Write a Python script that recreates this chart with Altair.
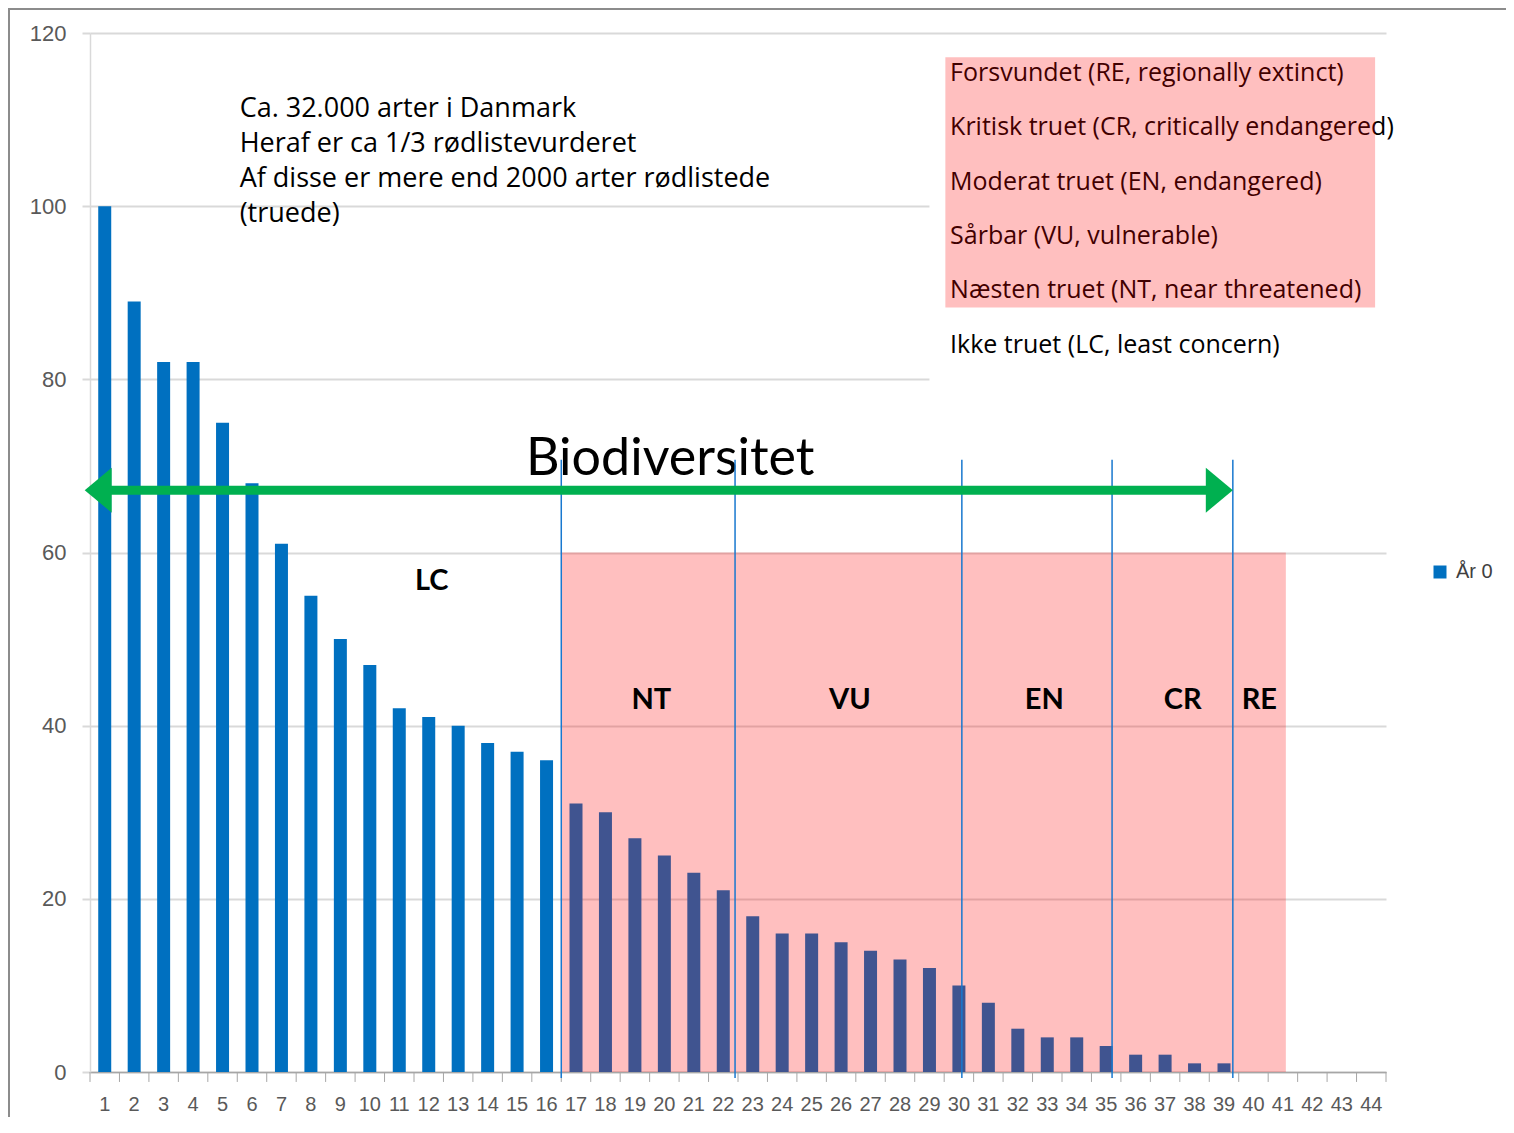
import altair as alt
import pandas as pd

# ---- data ----
categories = list(range(1, 45))
values = [100, 89, 82, 82, 75, 68, 61, 55, 50, 47, 42, 41, 40, 38, 37, 36,
          31, 30, 27, 25, 23, 21,
          18, 16, 16, 15, 14, 13, 12, 10,
          8, 5, 4, 4, 3,
          2, 2, 1, 1,
          0, 0, 0, 0, 0]
series_name = "År 0"
y_ticks = [0, 20, 40, 60, 80, 100, 120]

class_labels = ["LC", "NT", "VU", "EN", "CR", "RE"]
class_x = [12.1, 19.56, 26.3, 32.9, 37.6, 40.2]
class_y = [56.7, 43.0, 43.0, 43.0, 43.0, 43.0]
class_bounds = [16.5, 22.4, 30.1, 35.2, 39.3]

intro_lines = ["Ca. 32.000 arter i Danmark",
               "Heraf er ca 1/3 rødlistevurderet",
               "Af disse er mere end 2000 arter rødlistede",
               "(truede)"]
key_lines = ["Forsvundet (RE, regionally extinct)",
             "Kritisk truet (CR, critically endangered)",
             "Moderat truet (EN, endangered)",
             "Sårbar (VU, vulnerable)",
             "Næsten truet (NT, near threatened)",
             "Ikke truet (LC, least concern)"]

BLUE = "#0070C0"
GREEN = "#00B050"
TXT_FONT = "Open Sans"

df = pd.DataFrame({"cat": categories, "val": values, "series": series_name,
                   "lab": [str(c) for c in categories]})
one = pd.DataFrame({"k": [0]})
tick_df = pd.DataFrame({"b": [c - 0.5 for c in categories] + [categories[-1] + 0.5]})
bounds_df = pd.DataFrame({"b": class_bounds})
class_df = pd.DataFrame({"lab": class_labels, "x": class_x, "y": class_y})

xscale = alt.Scale(domain=[0.5, 44.5], nice=False, zero=False, padding=0)
yscale = alt.Scale(domain=[0, 120], nice=False)

x_axis = alt.Axis(values=categories, title=None, ticks=False, tickSize=0,
                  grid=False, labels=False,
                  domainColor="#A6A6A6", domainWidth=1.5)

bars = alt.Chart(df).mark_bar(size=13).encode(
    x=alt.X("cat:Q", scale=xscale, axis=x_axis),
    y=alt.Y("val:Q", scale=yscale,
            axis=alt.Axis(values=y_ticks, title=None, tickSize=8, tickColor="#D9D9D9",
                          tickWidth=2, gridColor="#D9D9D9", gridWidth=2,
                          labelPadding=16, labelFontSize=22, labelColor="#595959",
                          labelFont="Liberation Sans",
                          domainColor="#D9D9D9", domainWidth=1.5)),
    color=alt.Color("series:N",
                    scale=alt.Scale(domain=[series_name], range=[BLUE]),
                    legend=alt.Legend(title=None, orient="none", legendX=1340, legendY=529,
                                      symbolType="square", symbolSize=169,
                                      symbolStrokeWidth=0, labelFontSize=20,
                                      labelColor="#404040", labelFont="Liberation Sans",
                                      labelOffset=6, padding=0)),
)

x_labels = alt.Chart(df).mark_text(
    fontSize=20, font="Liberation Sans", color="#595959", baseline="middle").encode(
    x=alt.X("cat:Q", scale=xscale, axis=x_axis), y=alt.datum(-3.8), text="lab:N")

x_ticks = alt.Chart(tick_df).mark_rule(color="#A6A6A6", strokeWidth=1).encode(
    x=alt.X("b:Q", scale=xscale, axis=x_axis), y=alt.datum(0), y2=alt.datum(-1.15))

white_box = alt.Chart(one).mark_rect(color="white").encode(
    x=alt.datum(29.0), x2=alt.datum(45.2), y=alt.datum(79.3), y2=alt.datum(118.6))

key_text = alt.Chart(one).mark_text(
    text=key_lines, align="left", baseline="middle", fontSize=25, lineHeight=54.4,
    font=TXT_FONT, color="black").encode(x=alt.datum(29.7), y=alt.datum(115.4))

pink_main = alt.Chart(one).mark_rect(color="#FF0000", opacity=0.25).encode(
    x=alt.datum(16.5), x2=alt.datum(41.1), y=alt.datum(0), y2=alt.datum(60))

pink_key = alt.Chart(one).mark_rect(color="#FF0000", opacity=0.25).encode(
    x=alt.datum(29.54), x2=alt.datum(44.13), y=alt.datum(88.3), y2=alt.datum(117.2))

class_text = alt.Chart(class_df).mark_text(
    fontSize=29, fontWeight="bold", font="Lato", color="black").encode(
    x=alt.X("x:Q", scale=xscale, axis=x_axis), y="y:Q", text="lab:N")

bio_text = alt.Chart(one).mark_text(
    text="Biodiversitet", fontSize=52, font="Lato", baseline="alphabetic",
    align="center", color="black").encode(x=alt.datum(20.2), y=alt.datum(69.0))

intro_text = alt.Chart(one).mark_text(
    text=intro_lines, align="left", baseline="middle", fontSize=27, lineHeight=35,
    font=TXT_FONT, color="black").encode(x=alt.datum(5.58), y=alt.datum(111.2))

vlines = alt.Chart(bounds_df).mark_rule(color="#1878CF", strokeWidth=1.5).encode(
    x=alt.X("b:Q", scale=xscale, axis=x_axis), y=alt.datum(-0.7), y2=alt.datum(70.7))

shaft = alt.Chart(one).mark_rule(color=GREEN, strokeWidth=9).encode(
    x=alt.datum(1.0), x2=alt.datum(38.6), y=alt.datum(67.2))

head_r = alt.Chart(one).mark_point(
    shape="M0,0L-1.2,-1L-1.2,1Z", size=2025, filled=True, opacity=1,
    color=GREEN, strokeWidth=0).encode(x=alt.datum(39.3), y=alt.datum(67.2))

head_l = alt.Chart(one).mark_point(
    shape="M0,0L1.2,-1L1.2,1Z", size=2025, filled=True, opacity=1,
    color=GREEN, strokeWidth=0).encode(x=alt.datum(0.32), y=alt.datum(67.2))

frame_left = alt.Chart(one).mark_rule(color="#8C8C8C", strokeWidth=2).encode(
    x=alt.value(-81), y=alt.value(-25), y2=alt.value(1084))
frame_top = alt.Chart(one).mark_rule(color="#8C8C8C", strokeWidth=2).encode(
    y=alt.value(-24), x=alt.value(-82), x2=alt.value(1416))

chart = alt.layer(
    bars, x_labels, x_ticks, white_box, key_text, pink_main, pink_key, class_text,
    bio_text, intro_text, vlines, shaft, head_r, head_l, frame_left, frame_top
).properties(
    width=1296, height=1039,
    padding={"left": 82, "top": 25, "right": 120, "bottom": 45},
    autosize=alt.AutoSizeParams(type="none"),
).configure_view(stroke=None)

chart.save("out.html", embed_options={"renderer": "svg", "actions": False})
